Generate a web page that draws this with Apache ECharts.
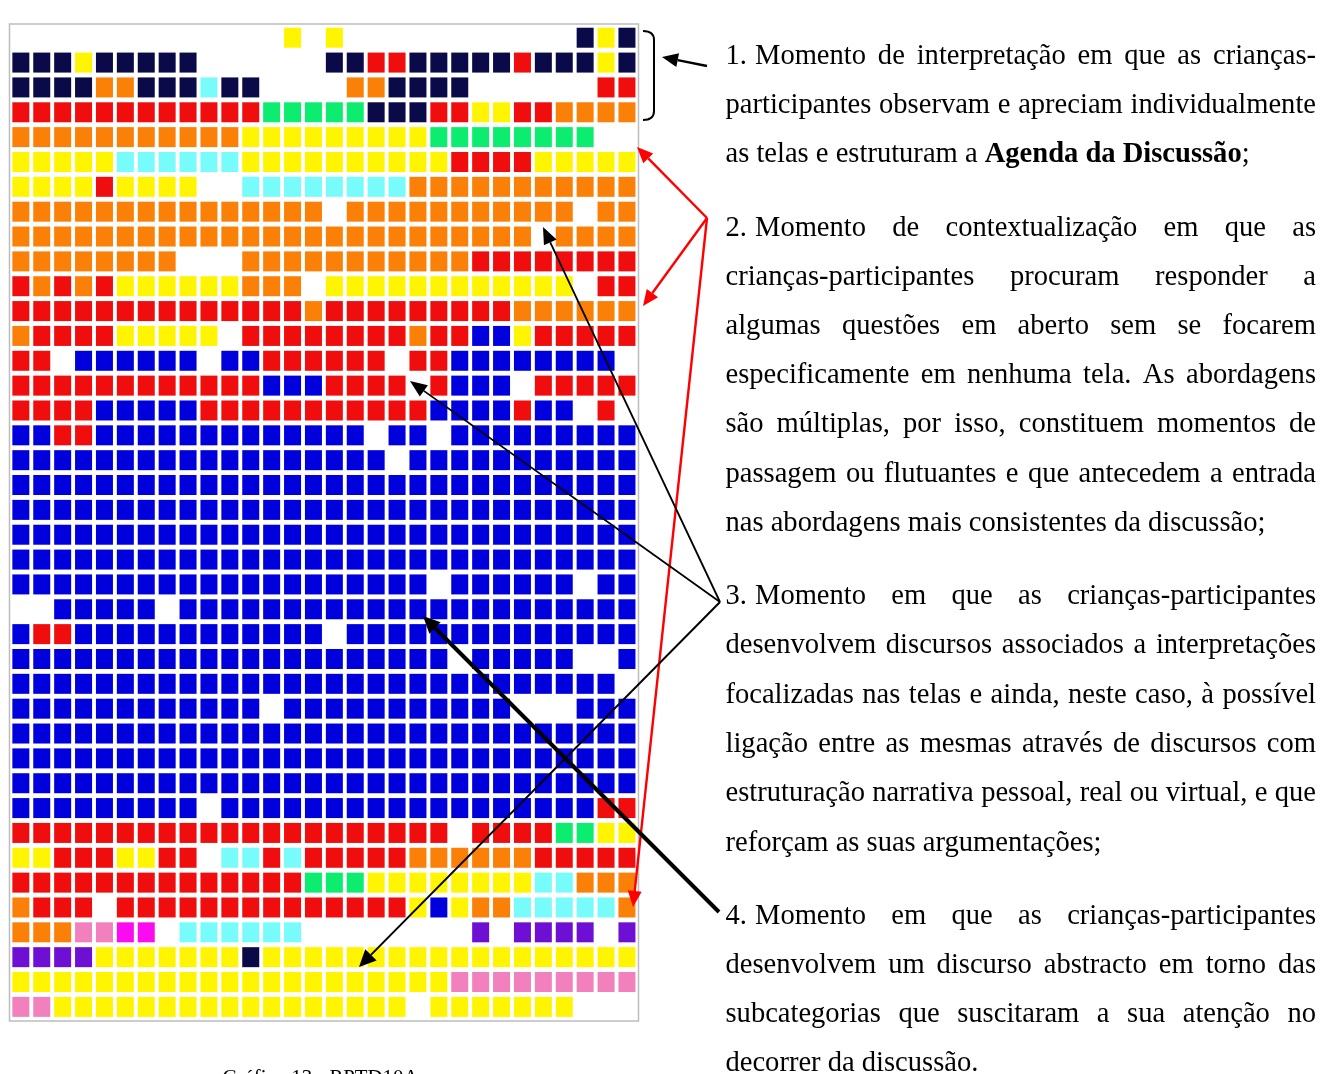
<!DOCTYPE html>
<html>
    <head>
        <meta charset="UTF-8">
        <title>Gráfico 13 - RPTD10A</title>
        <script src="https://cdn.jsdelivr.net/npm/echarts@6/dist/echarts.min.js"></script>
        <style>
            html, body { margin: 0; padding: 0; background: #fff; overflow: hidden; }
        </style>
    </head>
    <body>
        <div id="chart" style="width:1332px; height:1074px;"></div>
        <script>
            // one string per row, one letter per speech turn, "." = no cell
            var rowCells = [
              ".............Y.Y...........NYN",
              "NNNYNNNNN......NNRRNNNNNRNNNYN",
              "NNNNOONNNCNN....OONNNN......RR",
              "RRRRRRRRRRRRGGGGGNNNRRYYRROOOO",
              "OOOOOOOOOOOYYYYYYYYYGGGGGGGG..",
              "YYYYYCCCCCCYYYYYYYYYYRRRRYYYYY",
              "YYYYRYYYY..CCCCCCCCOOOOOOOOOOO",
              "OOOOOOOOOOOOOOO.OOOOOOOOOOO.OO",
              "OOOOOOOOOOOOOOOOOOOOOOOOO.OOOO",
              "OOOOOOOO...OOOOOOOOOOORRRRRRRR",
              "RORORYYYYYYOOO.YYYYYYYYYYYY.RR",
              "RRRRRRRRRRRRRRORRRRRRRRROOOOOO",
              "ORRRRYYYYY.RRRRRRRRORRBBYRRRRR",
              "RR.BBBBBB.BBRRRRRR.RRBBBBBBBB.",
              "RRRRRRRRRRRRBBBRRRR.RBBB.RRRRR",
              "RRRRBBBBBRRRRRRRRRRRBBBBRBB.R.",
              "BBRRBBBBBBBBBBBBB.BB.BBBBBBBBB",
              "BBBBBBBBBBBBBBBBBB.BBBBBBBBBBB",
              "BBBBBBBBBBBBBBBBBBBBBBBBBBBBBB",
              "BBBBBBBBBBBBBBBBBBBBBBBBBBBBBB",
              "BBBBBBBBBBBBBBBBBBBBBBBBBBBBBB",
              "BBBBBBBBBBBBBBBBBBBBBBBBBBBBBB",
              "BBBBBBBBBBBBBBBBBBBB.BBBBBB.BB",
              "..BBBBB.BBBBBBBBBBBBBBBBBBBBBB",
              "BRRBBBBBBBBBBBB.BBBBBBBBBBBBBB",
              "BBBBBBBBBBBBBBBBBBBBB.BBBBB..B",
              "BBBBBBBBBBBBBBBBBBBBBBBBBBBBB.",
              "BBBBBBBBBBBB.BBBBBBBBBBB...BBB",
              "BBBBBBBBBBBBBBBBBBBBBBBBBBBBBB",
              "BBBBBBBBBBBBBBBBBBBBBBBBBBBBBB",
              "BBBBBBBBBBBBBBBBBBBBBBBBBBBBBB",
              "BBBBBBBBB.BBBBBBBBBBBBBBBBBBRR",
              "RRRRRRRRRRRRRRRRRRRRR.RRRRGGYY",
              "YYRRRYYRR.CCRCRRRRROOOOOORRRRR",
              "RRRRRRRRRRRRRRGGGYYYYYYYYCCOOO",
              "ORRR.RRRRRRRRRRRRRRYBYOOCCCCCO",
              "OOOPPMM.CCCCCC........V.VVVV.V",
              "VVVVYYYYYYYNYYYYYYYYYYYYYYYYYY",
              "YYYYYYYYYYYYYYYYYYYYYPPPPPPPPP",
              "PPYYYYYYYYYYYYYYYYY.YYYYYYY..."
            ];
            var cellColors = {
              N:'#0a0a48', Y:'#fff500', R:'#ef0d0d', O:'#fa8008', G:'#0ced70',
              C:'#78fbfb', B:'#0000dc', P:'#f280bc', M:'#fb0cf0', V:'#6e10d4'
            };
            var columns = [];
            for (var c = 0; c < 30; c++) columns.push(c);
            var rows = [];
            for (var r = 0; r < rowCells.length; r++) rows.push(r);

            var cells = [];
            rowCells.forEach(function(row, r){
              row.split('').forEach(function(code, c){
                if (code !== '.') cells.push([c, r, code]);
              });
            });

            // texto ao lado do grafico: [centre y, words, justified?]
            var textLines = [
              [57,  '1.|Momento de interpretação em que as crianças-', true],
              [106, 'participantes observam e apreciam individualmente', true],
              [155, 'as telas e estruturam a |*Agenda da Discussão|;', false],
              [229, '2.|Momento de contextualização em que as', true],
              [278, 'crianças-participantes procuram responder a', true],
              [327, 'algumas questões em aberto sem se focarem', true],
              [376, 'especificamente em nenhuma tela. As abordagens', true],
              [425, 'são múltiplas, por isso, constituem momentos de', true],
              [475, 'passagem ou flutuantes e que antecedem a entrada', true],
              [524, 'nas abordagens mais consistentes da discussão;', false],
              [597, '3.|Momento em que as crianças-participantes', true],
              [646, 'desenvolvem discursos associados a interpretações', true],
              [696, 'focalizadas nas telas e ainda, neste caso, à possível', true],
              [745, 'ligação entre as mesmas através de discursos com', true],
              [794, 'estruturação narrativa pessoal, real ou virtual, e que', true],
              [844, 'reforçam as suas argumentações;', false],
              [917, '4.|Momento em que as crianças-participantes', true],
              [966, 'desenvolvem um discurso abstracto em torno das', true],
              [1015,'subcategorias que suscitaram a sua atenção no', true],
              [1064,'decorrer da discussão.', false]
            ];

            // [tailX, tailY, tipX, tipY, colour, width, head length, head half width]
            var arrows = [
              [707, 66, 662, 57, '#000', 2.5, 16, 7],
              [707, 218, 637, 147, '#f00', 2.4, 16, 7],
              [707, 218, 643, 306, '#f00', 2.4, 16, 7],
              [707, 218, 633, 907, '#f00', 2.4, 16, 7],
              [720, 602, 543, 227, '#000', 1.8, 17, 7],
              [720, 602, 410, 381, '#000', 1.8, 17, 7],
              [720, 602, 359, 967, '#000', 2, 17, 8],
              [719, 912, 423, 616, '#000', 4, 17, 8]
            ];

            var serif = '"Liberation Serif", "Times New Roman", serif';
            var textSize = 28.55;
            var textLeft = 725.5, textRight = 1316, afterNumber = 755;
            var measure = document.createElement('canvas').getContext('2d');
            function widthOf(s, bold){
              measure.font = (bold ? 'bold ' : '') + textSize + 'px ' + serif;
              return measure.measureText(s).width;
            }
            function textEl(s, x, y, bold){
              return {
                type:'text', z:50, silent:true,
                style:{
                  x:x, y:y, text:s, fill:'#000',
                  font:(bold ? 'bold ' : '') + textSize + 'px ' + serif,
                  textAlign:'left', textVerticalAlign:'middle'
                }
              };
            }

            var elements = [];
            // moldura do grafico
            elements.push({
              type:'rect', z:1, silent:true,
              shape:{x:9.5, y:24, width:629, height:997},
              style:{fill:'none', stroke:'#bdbdbd', lineWidth:1.5}
            });
            // chaveta do momento 1
            var bracketStyle = {fill:'none', stroke:'#000', lineWidth:2};
            elements.push({
              type:'bezierCurve', z:60, silent:true,
              shape:{x1:643, y1:31, cpx1:654, cpy1:31, x2:654, y2:40},
              style:bracketStyle
            });
            elements.push({
              type:'line', z:60, silent:true,
              shape:{x1:654, y1:40, x2:654, y2:111},
              style:bracketStyle
            });
            elements.push({
              type:'bezierCurve', z:60, silent:true,
              shape:{x1:654, y1:111, cpx1:654, cpy1:120, x2:643, y2:120},
              style:bracketStyle
            });
            arrows.forEach(function(a){
              var dx = a[2] - a[0], dy = a[3] - a[1];
              var len = Math.sqrt(dx * dx + dy * dy);
              var ux = dx / len, uy = dy / len;
              var bx = a[2] - ux * a[6], by = a[3] - uy * a[6];
              elements.push({
                type:'line', z:60, silent:true,
                shape:{x1:a[0], y1:a[1], x2:bx, y2:by},
                style:{stroke:a[4], lineWidth:a[5]}
              });
              elements.push({
                type:'polygon', z:60, silent:true,
                shape:{points:[[a[2], a[3]], [bx - uy * a[7], by + ux * a[7]], [bx + uy * a[7], by - ux * a[7]]]},
                style:{fill:a[4]}
              });
            });
            textLines.forEach(function(l){
              var y = l[0], parts = l[1].split('|');
              if (l[2]) {
                var x0 = textLeft;
                if (parts.length > 1) {
                  elements.push(textEl(parts[0], textLeft, y, false));
                  x0 = afterNumber;
                }
                var words = parts[parts.length - 1].split(' ');
                var sum = 0;
                words.forEach(function(w){ sum += widthOf(w, false); });
                var gap = (textRight - x0 - sum) / (words.length - 1);
                var x = x0;
                words.forEach(function(w){
                  elements.push(textEl(w, x, y, false));
                  x += widthOf(w, false) + gap;
                });
              } else {
                var xx = textLeft;
                parts.forEach(function(p){
                  var bold = p.charAt(0) === '*';
                  if (bold) p = p.slice(1);
                  elements.push(textEl(p, xx, y, bold));
                  xx += widthOf(p, bold);
                });
              }
            });
            elements.push({
              type:'text', z:50, silent:true,
              style:{
                x:320.5, y:1079, text:'Gráfico 13 - RPTD10A', fill:'#000',
                font:'20.8px ' + serif, textAlign:'center', textVerticalAlign:'middle'
              }
            });

            var chart = echarts.init(document.getElementById('chart'));
            var option = {
                animation:false,
                backgroundColor:'#fff',
                grid:{left:10.4, top:25.3, width:627, height:994},
                xAxis:{
                    type:'category',
                    data:columns,
                    axisLine:{show:false},
                    axisTick:{show:false},
                    axisLabel:{show:false},
                    splitLine:{show:false}
                },
                yAxis:{
                    type:'category',
                    inverse:true,
                    data:rows,
                    axisLine:{show:false},
                    axisTick:{show:false},
                    axisLabel:{show:false},
                    splitLine:{show:false}
                },
                graphic:{elements:elements},
                series:[{
                    type:'scatter',
                    symbol:'rect',
                    symbolSize:[17, 20],
                    data:cells,
                    itemStyle:{
                      opacity:1,
                      color:function(p){ return cellColors[p.value[2]]; }
                    }
                }]
            };
            chart.setOption(option);
        </script>
    </body>
</html>
